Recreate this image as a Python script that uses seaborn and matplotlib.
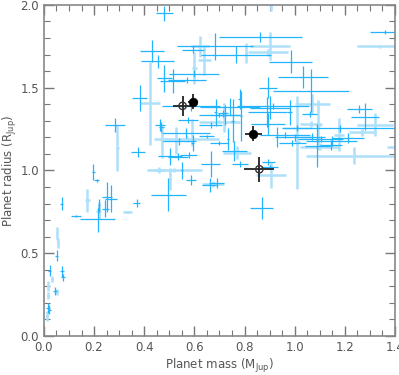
import numpy as np
import pandas as pd
import seaborn as sns
import matplotlib
matplotlib.use("Agg")
import matplotlib.pyplot as plt
from matplotlib.ticker import MultipleLocator

# planet mass / radius (Jupiter units) with 1-sigma errors
mass = [0.051, 0.053, 0.058, 0.024, 0.033, 0.072, 0.077, 0.017, 0.044, 0.052,
        0.017, 0.022, 0.018, 0.011, 0.072, 0.128, 0.173, 0.214, 0.219, 0.22,
        0.245, 0.252, 0.267, 0.334, 0.37, 0.496, 0.21, 0.197, 0.283, 0.293,
        0.376,
        0.48, 0.432, 0.453, 0.48, 0.513, 0.383, 0.423, 0.595, 0.60, 0.60,
        0.57, 0.622, 0.64, 0.682, 0.863, 0.90, 0.766, 0.805, 0.894, 0.985,
        1.033, 0.894, 1.065, 1.36, 1.34, 0.905, 0.78,
        0.742, 0.90, 0.913, 1.01, 1.28, 1.257, 1.32, 1.236, 1.09, 1.147,
        1.213, 1.27, 1.177, 1.18, 1.065, 1.07, 1.093, 1.06, 1.07, 1.40,
        1.145, 1.10, 1.0, 1.104, 0.894, 0.89, 0.722, 0.98, 1.01, 0.96,
        0.99, 0.77, 0.76, 0.782, 0.894, 0.90, 0.905, 0.69, 0.674, 0.665,
        0.662, 0.586, 0.868, 0.503, 0.46, 0.52, 0.55, 0.503, 0.463, 0.566,
        0.527, 0.57, 0.47, 0.54, 0.59, 0.575, 0.593, 0.666, 0.578, 0.586,
        0.718, 0.685, 0.713, 0.70, 0.70, 0.753, 0.785, 0.734, 0.65, 0.70,
        0.928, 0.535, 0.467]
radius = [0.485, 0.62, 0.56, 0.395, 0.345, 0.39, 0.355, 0.30, 0.27, 0.265,
          0.167, 0.16, 0.245, 0.12, 0.80, 0.725, 0.82, 0.705, 0.757, 0.79,
          0.77, 0.838, 0.83, 0.75, 0.805, 0.852, 0.94, 0.99, 1.275, 1.134,
          1.114,
          1.95, 1.72, 1.66, 1.556, 1.54, 1.436, 1.405, 1.73, 1.62, 1.585,
          1.547, 1.75, 1.668, 1.75, 1.807, 1.752, 1.70, 1.71, 1.714, 1.656,
          1.565, 1.50, 1.48, 1.837, 1.75, 1.99, 1.43,
          1.385, 1.38, 1.39, 1.17, 1.325, 1.372, 1.275, 1.09, 1.15, 1.18,
          1.195, 1.23, 1.215, 1.255, 1.28, 1.40, 1.275, 1.34, 1.204, 1.14,
          1.154, 1.144, 1.2, 1.19, 1.28, 1.355, 1.335, 1.35, 1.257, 1.215,
          1.165, 1.107, 1.115, 1.04, 1.05, 1.02, 0.973, 0.925, 0.918, 1.04,
          0.912, 0.943, 0.772, 1.085, 1.003, 1.003, 1.0, 0.95, 1.275, 1.227,
          1.18, 1.19, 1.17, 1.175, 1.23, 1.305, 1.165, 1.275, 1.094, 1.39,
          1.32, 1.35, 1.345, 1.335, 1.295, 1.30, 1.33, 1.19, 1.205, 1.165,
          1.20, 1.083, 1.265]
mass_err = [0.005, 0.004, 0.004, 0.006, 0.004, 0.008, 0.008, 0.005, 0.008, 0.006,
            0.007, 0.006, 0.004, 0.004, 0.006, 0.02, 0.01, 0.07, 0.01, 0.005,
            0.015, 0.02, 0.025, 0.018, 0.015, 0.07, 0.01, 0.005, 0.04, 0.005,
            0.027,
            0.033, 0.048, 0.067, 0.03, 0.05, 0.03, 0.04, 0.045, 0.01, 0.1,
            0.075, 0.036, 0.025, 0.15, 0.165, 0.08, 0.14, 0.005, 0.08, 0.086,
            0.1, 0.035, 0.15, 0.06, 0.09, 0.005, 0.005,
            0.12, 0.08, 0.145, 0.01, 0.055, 0.05, 0.07, 0.19, 0.05, 0.1,
            0.064, 0.054, 0.02, 0.23, 0.045, 0.07, 0.01, 0.03, 0.05, 0.03,
            0.045, 0.077, 0.072, 0.09, 0.068, 0.078, 0.06, 0.01, 0.055, 0.1,
            0.054, 0.054, 0.05, 0.03, 0.026, 0.035, 0.06, 0.03, 0.045, 0.037,
            0.03, 0.02, 0.045, 0.048, 0.022, 0.11, 0.005, 0.005, 0.02, 0.096,
            0.005, 0.13, 0.005, 0.066, 0.005, 0.04, 0.005, 0.046, 0.034, 0.116,
            0.005, 0.005, 0.02, 0.08, 0.08, 0.005, 0.005, 0.005, 0.03, 0.036,
            0.005, 0.04, 0.01]
radius_err = [0.035, 0.04, 0.03, 0.035, 0.02, 0.035, 0.02, 0.03, 0.025, 0.02,
              0.03, 0.025, 0.02, 0.03, 0.04, 0.008, 0.07, 0.075, 0.05, 0.04,
              0.05, 0.09, 0.08, 0.005, 0.025, 0.1, 0.01, 0.05, 0.04, 0.14,
              0.03,
              0.045, 0.065, 0.04, 0.08, 0.07, 0.08, 0.25, 0.02, 0.095, 0.02,
              0.02, 0.065, 0.09, 0.08, 0.03, 0.085, 0.05, 0.06, 0.02, 0.07,
              0.065, 0.065, 0.13, 0.01, 0.01, 0.03, 0.06,
              0.05, 0.07, 0.02, 0.28, 0.08, 0.025, 0.07, 0.05, 0.13, 0.03,
              0.03, 0.02, 0.1, 0.02, 0.02, 0.06, 0.15, 0.02, 0.02, 0.01,
              0.03, 0.02, 0.02, 0.02, 0.065, 0.09, 0.06, 0.075, 0.02, 0.02,
              0.02, 0.04, 0.06, 0.02, 0.02, 0.01, 0.08, 0.03, 0.02, 0.08,
              0.04, 0.03, 0.068, 0.05, 0.02, 0.01, 0.05, 0.066, 0.036, 0.03,
              0.08, 0.02, 0.095, 0.02, 0.08, 0.02, 0.05, 0.02, 0.02, 0.03,
              0.09, 0.08, 0.02, 0.01, 0.01, 0.13, 0.15, 0.066, 0.01, 0.01,
              0.06, 0.02, 0.03]
faint = [0, 1, 1, 0, 1, 0, 0, 1, 0, 1,
         0, 0, 1, 1, 0, 0, 1, 0, 1, 0,
         0, 0, 0, 1, 0, 0, 0, 0, 0, 1,
         0,
         0, 0, 0, 0, 0, 0, 1, 0, 1, 0,
         0, 1, 1, 0, 0, 1, 0, 1, 1, 0,
         0, 0, 0, 0, 1, 1, 0,
         0, 0, 0, 1, 0, 0, 1, 1, 0, 0,
         0, 1, 1, 0, 1, 1, 1, 0, 0, 1,
         0, 1, 0, 0, 0, 0, 0, 0, 0, 0,
         0, 1, 0, 0, 0, 0, 1, 0, 1, 0,
         0, 0, 0, 0, 1, 1, 0, 1, 0, 0,
         1, 1, 1, 0, 1, 0, 0, 0, 0, 0,
         1, 0, 0, 0, 1, 0, 0, 0, 0, 0,
         0, 0, 0]

# highlighted planets (black)
hl_mass = [0.596, 0.835, 0.553, 0.859]
hl_radius = [1.416, 1.222, 1.39, 1.007]
hl_mass_err = [0.02, 0.033, 0.04, 0.06]
hl_radius_err = [0.045, 0.045, 0.06, 0.075]
hl_kind = ["filled", "filled", "open", "open"]

df = pd.DataFrame({"mass": mass, "radius": radius, "merr": mass_err,
                   "rerr": radius_err, "faint": faint})
hl = pd.DataFrame({"mass": hl_mass, "radius": hl_radius, "merr": hl_mass_err,
                   "rerr": hl_radius_err, "kind": hl_kind})

sns.set_style("ticks")
plt.rcParams["font.family"] = ["DejaVu Sans"]
grey = "#555555"

fig = plt.figure(figsize=(3.99, 3.75), dpi=100)
ax = fig.add_axes([0.110, 0.104, 0.880, 0.883])

light = df[df["faint"] == 1]
dark = df[df["faint"] == 0]
ax.errorbar(light["mass"], light["radius"], xerr=light["merr"], yerr=light["rerr"],
            fmt="none", ecolor="#aee0fa", elinewidth=1.8, capsize=0, zorder=1)
ax.errorbar(dark["mass"], dark["radius"], xerr=dark["merr"], yerr=dark["rerr"],
            fmt="none", ecolor="#22b4ff", elinewidth=0.9, capsize=0, zorder=2)

ax.errorbar(hl["mass"], hl["radius"], xerr=hl["merr"], yerr=hl["rerr"],
            fmt="none", ecolor="#222222", elinewidth=1.3, capsize=0, zorder=3)
sns.scatterplot(data=hl[hl["kind"] == "filled"], x="mass", y="radius", ax=ax,
                marker="o", s=38, color="black", edgecolor="black", zorder=4)
sns.scatterplot(data=hl[hl["kind"] == "open"], x="mass", y="radius", ax=ax,
                marker="o", s=28, facecolor="none", edgecolor="#333333",
                linewidth=1.0, zorder=4)

ax.set_xlim(0, 1.4)
ax.set_ylim(0, 2.0)
ax.xaxis.set_major_locator(MultipleLocator(0.2))
ax.xaxis.set_minor_locator(MultipleLocator(0.05))
ax.yaxis.set_major_locator(MultipleLocator(0.5))
ax.yaxis.set_minor_locator(MultipleLocator(0.1))
ax.xaxis.set_major_formatter(lambda v, p: f"{v:.1f}")
ax.yaxis.set_major_formatter(lambda v, p: f"{v:.1f}")

ax.tick_params(which="both", direction="in", top=True, right=True,
               colors="#777777", labelcolor=grey, labelsize=8.5)
ax.tick_params(which="major", length=7, width=1)
ax.tick_params(which="minor", length=4, width=0.8)
for s in ax.spines.values():
    s.set_color("#888888")
    s.set_linewidth(1.2)

ax.set_xlabel(r"Planet mass (M$_{\rm Jup}$)", color=grey, fontsize=8.5, labelpad=2)
ax.set_ylabel(r"Planet radius (R$_{\rm Jup}$)", color=grey, fontsize=8.5, labelpad=1)

fig.savefig("out.png", dpi=100)
